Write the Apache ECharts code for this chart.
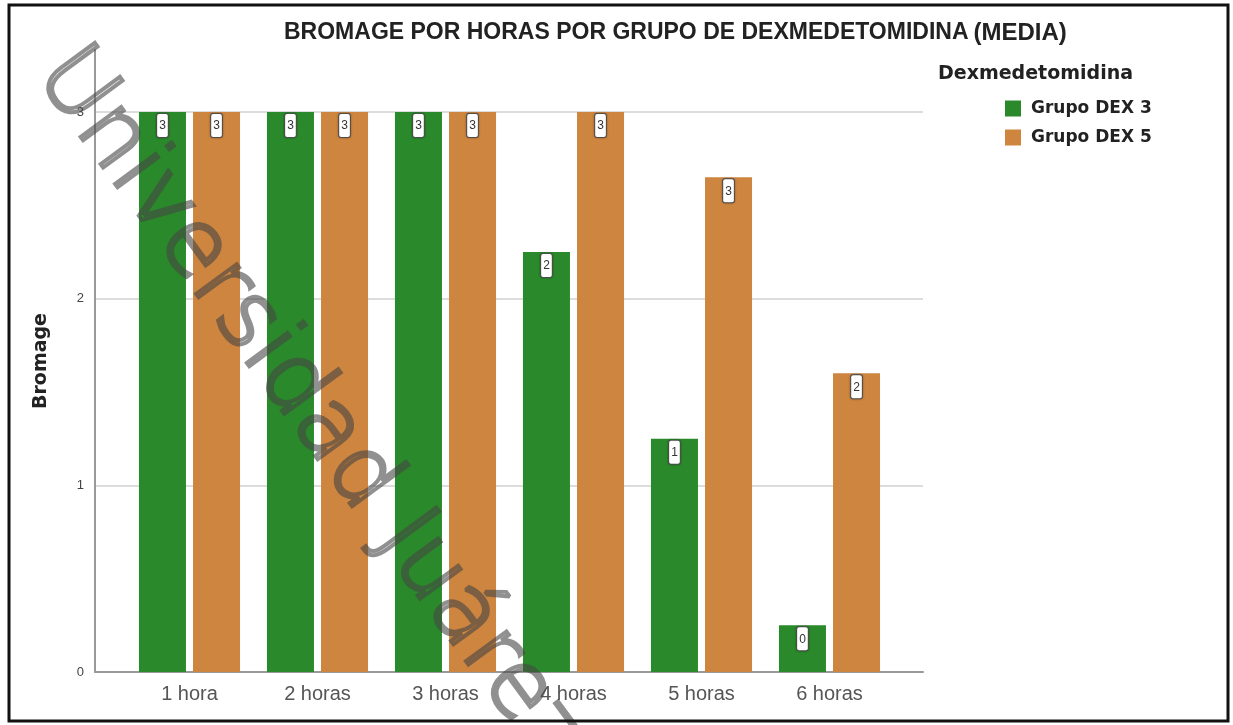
<!DOCTYPE html>
<html>
<head>
<meta charset="utf-8">
<script src="https://cdn.jsdelivr.net/npm/echarts@6/dist/echarts.min.js"></script>
</head>
<body style="margin:0;background:#fff">
<div id="main" style="width:1233px;height:725px;"></div>
<script>
// datos (media de Bromage)
var horas = ['1 hora', '2 horas', '3 horas', '4 horas', '5 horas', '6 horas'];
var dex3 = [3, 3, 3, 2.25, 1.25, 0.25];
var dex5 = [3, 3, 3, 3, 2.65, 1.6];
var grupos = ['Grupo DEX 3', 'Grupo DEX 5'];
var colores = ['#2a892a', '#cd853f'];

var chart = echarts.init(document.getElementById('main'));

var etiqueta = {
    show: true,
    position: 'insideTop',
    distance: 2,
    formatter: function (p) { return Math.round(p.value); },
    fontSize: 12,
    fontFamily: 'Liberation Sans',
    color: '#333',
    backgroundColor: '#fff',
    borderColor: '#555',
    borderWidth: 1,
    borderRadius: 2,
    padding: [6, 2, 5, 2],
    shadowBlur: 2,
    shadowColor: 'rgba(0,0,0,0.35)'
};

var option = {
    animation: false,
    textStyle: { fontFamily: 'Liberation Sans' },
    title: [{
        text: '{a|BROMAGE POR HORAS POR GRUPO DE DEXMEDETOMIDINA} {b|(MEDIA)}',
        left: 279,
        top: 16,
        textStyle: {
            rich: {
                a: { fontSize: 23, fontWeight: 'bold', color: '#222', fontFamily: 'Liberation Sans' },
                b: { fontSize: 24, color: '#222', fontFamily: 'Liberation Sans' }
            }
        }
    }, {
        text: 'Dexmedetomidina',
        left: 933,
        top: 60,
        textStyle: { fontFamily: 'DejaVu Sans', fontWeight: 'bold', fontSize: 19, color: '#222' }
    }],
    legend: {
        data: grupos,
        orient: 'vertical',
        left: 1000,
        top: 95,
        icon: 'rect',
        itemWidth: 16,
        itemHeight: 16,
        itemGap: 12,
        textStyle: { fontFamily: 'DejaVu Sans', fontWeight: 'bold', fontSize: 17, color: '#222', padding: [0, 0, 0, 5] }
    },
    grid: [
        { left: 95, top: 50, width: 828, height: 622 },
        { left: 125.5, top: 112, width: 768, height: 560 },
        { left: 95, top: 112, width: 828, height: 560 }
    ],
    xAxis: [{
        gridIndex: 0, type: 'category', data: horas,
        axisLine: { lineStyle: { color: '#999', width: 2 } },
        axisTick: { show: false }, axisLabel: { show: false }
    }, {
        gridIndex: 1, type: 'category', data: horas,
        axisLine: { show: false }, axisTick: { show: false },
        axisLabel: { fontSize: 20, color: '#555', margin: 12 }
    }, {
        gridIndex: 2, type: 'category', data: horas, show: false
    }],
    yAxis: [{
        gridIndex: 0, type: 'value', min: 0, max: 3 * 622 / 560, interval: 1,
        axisLine: { show: true, lineStyle: { color: '#999', width: 2 } },
        axisTick: { show: false },
        splitLine: { show: false },
        axisLabel: { showMaxLabel: false, fontSize: 13, color: '#444', margin: 11 },
        name: 'Bromage', nameLocation: 'middle', nameGap: 44,
        nameTextStyle: { fontSize: 19, fontWeight: 'bold', color: '#222', fontFamily: 'DejaVu Sans' }
    }, {
        gridIndex: 1, type: 'value', min: 0, max: 3, show: false
    }, {
        gridIndex: 2, type: 'value', min: 0, max: 3, interval: 1,
        axisLine: { show: false }, axisTick: { show: false }, axisLabel: { show: false },
        splitLine: { lineStyle: { color: '#dcdcdc', width: 2 } }
    }],
    series: [{
        name: grupos[0], type: 'bar', xAxisIndex: 1, yAxisIndex: 1,
        data: dex3, barWidth: 47, barGap: '15%',
        itemStyle: { color: colores[0] },
        label: etiqueta
    }, {
        name: grupos[1], type: 'bar', xAxisIndex: 1, yAxisIndex: 1,
        data: dex5, barWidth: 47, barGap: '15%',
        itemStyle: { color: colores[1] },
        label: etiqueta
    }],
    graphic: [{
        type: 'rect',
        shape: { x: 9, y: 5, width: 1219, height: 716 },
        style: { fill: 'none', stroke: '#111', lineWidth: 3 },
        silent: true, z: 100
    }, {
        // marca de agua
        type: 'text',
        x: 54, y: 60,
        rotation: -53.7 * Math.PI / 180,
        style: {
            text: 'Universidad Juárez',
            font: '200 92px "DejaVu Sans"',
            fill: 'none',
            stroke: 'rgba(70,70,70,0.6)',
            lineWidth: 4,
            textAlign: 'left',
            textVerticalAlign: 'middle'
        },
        silent: true, z: 99
    }]
};

chart.setOption(option);
</script>
</body>
</html>
